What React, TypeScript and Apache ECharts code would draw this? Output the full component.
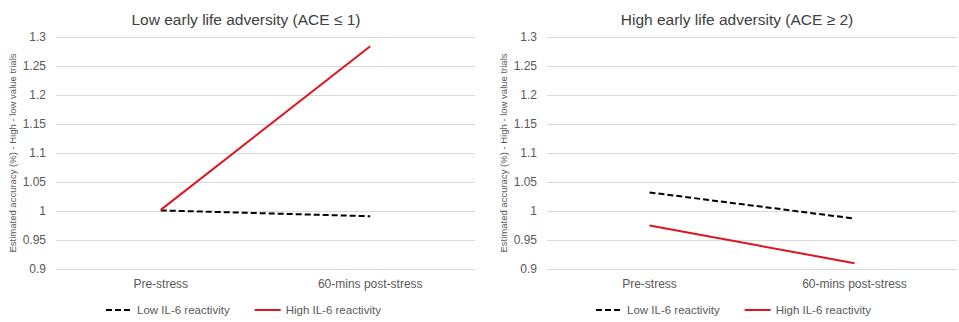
import React, { useEffect, useRef } from "react";
import * as echarts from "echarts";

const categories = ["Pre-stress", "60-mins post-stress"];
const lowAceLowIL6 = [1.001, 0.991];
const lowAceHighIL6 = [1.002, 1.284];
const highAceLowIL6 = [1.032, 0.987];
const highAceHighIL6 = [0.975, 0.91];
const titles = ["Low early life adversity (ACE \u2264 1)", "High early life adversity (ACE \u2265 2)"];
const seriesNames = ["Low IL-6 reactivity", "High IL-6 reactivity"];
const yName = "Estimated accuracy (%) - High - low value trials";

export default function App() {
  const ref = useRef<HTMLDivElement>(null);
  useEffect(() => {
    if (!ref.current) return;
    const chart = echarts.init(ref.current, undefined, { renderer: "svg" });
    const font = "Liberation Sans, Arial, sans-serif";
    const textColor = "#595959";
    const grids = [
      { left: 56, right: 959 - 475, top: 37, height: 232 },
      { left: 547, right: 2, top: 37, height: 232 },
    ];
    const mkX = (i: number) => ({
      type: "category",
      gridIndex: i,
      data: categories,
      boundaryGap: true,
      axisLine: { show: true, lineStyle: { color: "#d9d9d9" } },
      axisTick: { show: false },
      axisLabel: { color: textColor, fontSize: 12, fontFamily: font, margin: 9 },
    });
    const mkY = (i: number) => ({
      type: "value",
      gridIndex: i,
      min: 0.9,
      max: 1.3,
      interval: 0.05,
      name: yName,
      nameLocation: "middle",
      nameRotate: 90,
      nameGap: 39,
      nameTextStyle: { color: textColor, fontSize: 9.5, fontFamily: font },
      axisLine: { show: false },
      axisTick: { show: false },
      splitLine: { lineStyle: { color: "#d9d9d9", width: 1 } },
      axisLabel: { color: textColor, fontSize: 12, fontFamily: font, margin: 10 },
    });
    const dashed = { color: "#000000", width: 2, type: [6, 3] as any };
    const solid = { color: "#e0141e", width: 2, type: "solid" as any };
    const mkSeries = (name: string, data: number[], i: number, ls: any) => ({
      type: "line",
      name,
      xAxisIndex: i,
      yAxisIndex: i,
      data,
      symbol: "none",
      showSymbol: false,
      lineStyle: ls,
      itemStyle: { color: ls.color },
    });
    const mkLegend = (left: number) => ({
      left,
      top: 299,
      itemWidth: 26,
      itemHeight: 12,
      itemGap: 24,
      data: seriesNames,
      itemStyle: { opacity: 0 },
      textStyle: { color: textColor, fontSize: 11.5, fontFamily: font },
    });
    chart.setOption({
      animation: false,
      backgroundColor: "#ffffff",
      title: [
        {
          text: titles[0],
          left: 241,
          top: 6,
          textAlign: "center",
          textStyle: { color: "#404040", fontSize: 15.5, fontWeight: "normal", fontFamily: font },
        },
        {
          text: titles[1],
          left: 732,
          top: 6,
          textAlign: "center",
          textStyle: { color: "#404040", fontSize: 15.5, fontWeight: "normal", fontFamily: font },
        },
      ],
      legend: [mkLegend(100), mkLegend(590)],
      grid: grids,
      xAxis: [mkX(0), mkX(1)],
      yAxis: [mkY(0), mkY(1)],
      series: [
        mkSeries(seriesNames[0], lowAceLowIL6, 0, dashed),
        mkSeries(seriesNames[1], lowAceHighIL6, 0, solid),
        mkSeries(seriesNames[0], highAceLowIL6, 1, dashed),
        mkSeries(seriesNames[1], highAceHighIL6, 1, solid),
      ],
    });
    return () => chart.dispose();
  }, []);
  return (
    <div
      ref={ref}
      style={{ position: "fixed", left: 0, top: 0, width: 959, height: 322, background: "#fff" }}
    />
  );
}
